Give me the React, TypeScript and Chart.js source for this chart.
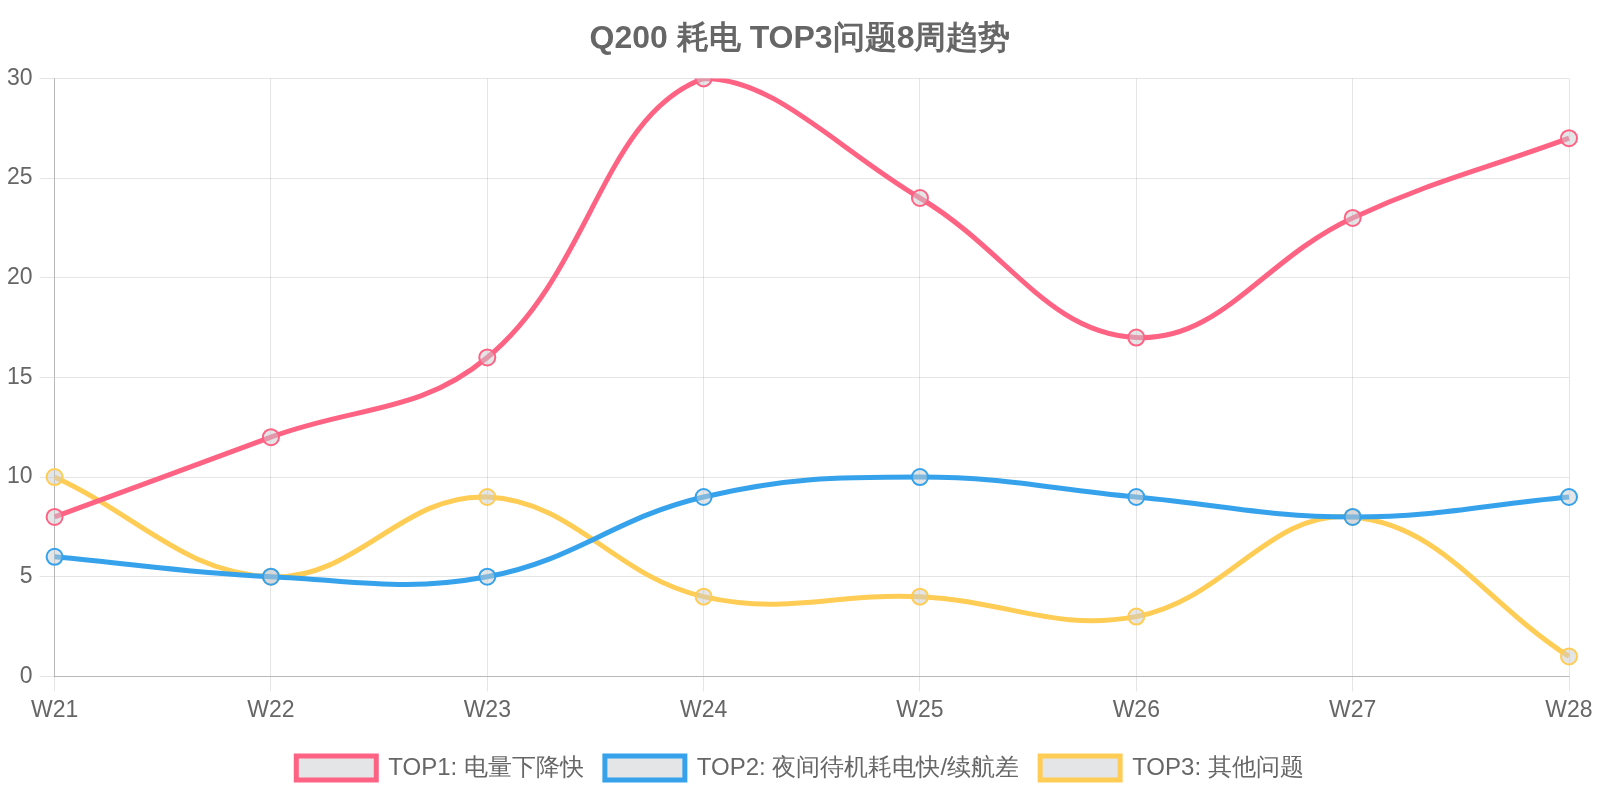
import React, { useEffect, useRef } from "react";
import { Chart, registerables } from "chart.js";

Chart.register(...registerables);

const weeks = ["W21", "W22", "W23", "W24", "W25", "W26", "W27", "W28"];
const top1 = [8, 12, 16, 30, 24, 17, 23, 27];
const top2 = [6, 5, 5, 9, 10, 9, 8, 9];
const top3 = [10, 5, 9, 4, 4, 3, 8, 1];
const seriesNames = ["TOP1: 电量下降快", "TOP2: 夜间待机耗电快/续航差", "TOP3: 其他问题"];
const seriesColors = ["#ff6384", "#36a2eb", "#ffcd56"];

const FONT = "'Liberation Sans', Arial, Helvetica, sans-serif";
const TEXT = "#666";

const App: React.FC = () => {
  const canvasRef = useRef<HTMLCanvasElement | null>(null);
  const chartRef = useRef<Chart | null>(null);

  useEffect(() => {
    const canvas = canvasRef.current;
    if (!canvas) return;

    if (chartRef.current) {
      chartRef.current.destroy();
      chartRef.current = null;
    }

    const values = [top1, top2, top3];

    chartRef.current = new Chart(canvas, {
      type: "line",
      data: {
        labels: weeks,
        datasets: values.map((data, i) => ({
          label: seriesNames[i],
          data,
          borderColor: seriesColors[i],
          backgroundColor: "rgba(201, 203, 207, 0.5)",
          pointBackgroundColor: "rgba(201, 203, 207, 0.5)",
          pointBorderColor: seriesColors[i],
          pointBorderWidth: 2,
          pointRadius: 8,
          borderWidth: 5,
          tension: 0.4,
          fill: false,
        })),
      },
      options: {
        responsive: true,
        maintainAspectRatio: false,
        animation: false,
        layout: { padding: { top: 0, left: 0, right: 0, bottom: 10 } },
        plugins: {
          title: {
            display: true,
            text: "Q200 耗电 TOP3问题8周趋势",
            color: TEXT,
            font: { family: FONT, size: 32, weight: "bold" },
            padding: { top: 20, bottom: 20 },
          },
          legend: {
            position: "bottom",
            labels: {
              color: TEXT,
              font: { family: FONT, size: 24 },
              boxWidth: 80,
              boxHeight: 24,
              padding: 21,
            },
          },
        },
        scales: {
          x: {
            grid: { color: "rgba(0,0,0,0.1)", tickLength: 15 },
            border: { color: "rgba(0,0,0,0.2)" },
            ticks: { color: TEXT, font: { family: FONT, size: 23 }, padding: 5 },
            // fixed gap on the right and a little room above the legend
            afterFit: (scale: any) => {
              scale.paddingRight = 31;
              scale.height += 6;
            },
          },
          y: {
            min: 0,
            max: 30,
            grid: { color: "rgba(0,0,0,0.1)", tickLength: 15 },
            border: { color: "rgba(0,0,0,0.2)" },
            ticks: { stepSize: 5, color: TEXT, font: { family: FONT, size: 23 }, padding: 7 },
          },
        },
      },
    });

    return () => {
      if (chartRef.current) {
        chartRef.current.destroy();
        chartRef.current = null;
      }
    };
  }, []);

  return (
    <div style={{ position: "absolute", left: 0, top: 0, width: 1600, height: 800 }}>
      <canvas ref={canvasRef} />
    </div>
  );
};

export default App;
